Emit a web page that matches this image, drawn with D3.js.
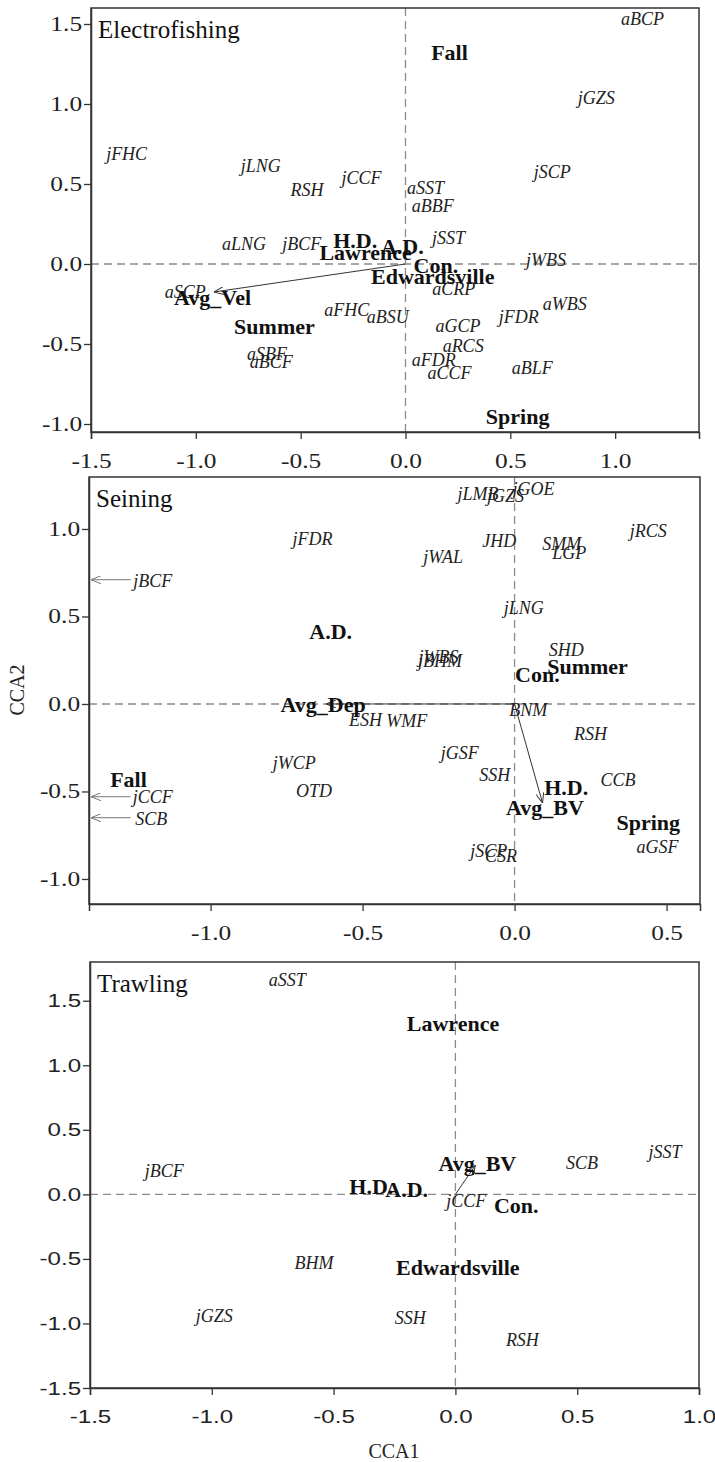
<!DOCTYPE html>
<html>
<head>
<meta charset="utf-8">
<script src="https://cdn.jsdelivr.net/npm/d3@7"></script>
<style>
  body { margin: 0; background: #fff; }
  svg { display: block; }
</style>
</head>
<body>
<div id="chart"></div>
<script>
// ---- Electrofishing ----
const efSpecies = [
  ['jFHC', -1.33, 0.69], ['jLNG', -0.69, 0.61], ['RSH', -0.47, 0.46], ['jCCF', -0.21, 0.54],
  ['aBCP', 1.13, 1.53], ['jGZS', 0.91, 1.04], ['jSCP', 0.70, 0.575], ['aSST', 0.095, 0.475],
  ['aBBF', 0.13, 0.36], ['aLNG', -0.77, 0.125], ['jBCF', -0.495, 0.125], ['aSCP', -1.05, -0.175],
  ['aSBF', -0.66, -0.56], ['aBCF', -0.64, -0.61], ['aFHC', -0.28, -0.29], ['jSST', 0.205, 0.16],
  ['jWBS', 0.67, 0.025], ['aCRP', 0.23, -0.155], ['aBSU', -0.085, -0.33], ['aWBS', 0.76, -0.25],
  ['jFDR', 0.54, -0.33], ['aGCP', 0.25, -0.39], ['aRCS', 0.275, -0.51], ['aFDR', 0.135, -0.60],
  ['aCCF', 0.21, -0.68], ['aBLF', 0.605, -0.65]
];
const efFactors = [
  ['Fall', 0.21, 1.325], ['Avg_Vel', -0.92, -0.21], ['Summer', -0.625, -0.39],
  ['H.D.', -0.24, 0.15], ['A.D.', -0.015, 0.11], ['Lawrence', -0.19, 0.075],
  ['Con.', 0.145, -0.01], ['Edwardsville', 0.13, -0.08], ['Spring', 0.535, -0.95]
];
const efArrows = [[0, 0, -0.914, -0.175]];

// ---- Seining ----
const seSpecies = [
  ['jFDR', -0.665, 0.94], ['jBCF', -1.19, 0.70], ['jLMB', -0.12, 1.20], ['jGZS', -0.03, 1.19],
  ['jGOE', 0.0625, 1.23], ['jRCS', 0.44, 0.99], ['JHD', -0.05, 0.93], ['SMM', 0.155, 0.915],
  ['LGP', 0.18, 0.86], ['jWAL', -0.235, 0.84], ['jLNG', 0.03, 0.55], ['SHD', 0.17, 0.31],
  ['jWBS', -0.25, 0.27], ['jBHM', -0.245, 0.245], ['ESH', -0.49, -0.09], ['WMF', -0.355, -0.10],
  ['jWCP', -0.725, -0.34], ['OTD', -0.66, -0.50], ['jCCF', -1.19, -0.53], ['SCB', -1.195, -0.66],
  ['BNM', 0.045, -0.035], ['RSH', 0.25, -0.17], ['jGSF', -0.18, -0.28], ['SSH', -0.065, -0.405],
  ['CCB', 0.34, -0.435], ['aGSF', 0.47, -0.82], ['jSCP', -0.085, -0.84], ['CSR', -0.045, -0.87]
];
const seFactors = [
  ['A.D.', -0.605, 0.415], ['Summer', 0.24, 0.215], ['Con.', 0.075, 0.17],
  ['Avg_Dep', -0.63, -0.005], ['Fall', -1.27, -0.43], ['H.D.', 0.17, -0.475],
  ['Avg_BV', 0.10, -0.59], ['Spring', 0.44, -0.68]
];
const seArrows = [[0, 0, -0.62, 0], [0, 0, 0.092, -0.566]];
// species lying beyond the left edge
const seEdgeArrows = [[-1.263, 0.71, -1.4, 0.71], [-1.263, -0.53, -1.4, -0.53], [-1.263, -0.65, -1.4, -0.65]];

// ---- Trawling ----
const trSpecies = [
  ['aSST', -0.69, 1.66], ['jBCF', -1.195, 0.18], ['jSST', 0.86, 0.325], ['SCB', 0.52, 0.24],
  ['jCCF', 0.045, -0.055], ['SSH', -0.185, -0.96], ['RSH', 0.275, -1.125], ['BHM', -0.58, -0.53],
  ['jGZS', -0.99, -0.945]
];
const trFactors = [
  ['Lawrence', -0.01, 1.325], ['Avg_BV', 0.09, 0.24], ['H.D.', -0.345, 0.06],
  ['A.D.', -0.20, 0.04], ['Con.', 0.25, -0.085], ['Edwardsville', 0.01, -0.565]
];
const trArrows = [[0, 0, 0.082, 0.225]];

const ticksA = [-1.5, -1.0, -0.5, 0.0, 0.5, 1.0, 1.5];
const ticksB = [-1.0, -0.5, 0.0, 0.5, 1.0];

const SERIF = '"Liberation Serif", "Times New Roman", serif';
const SANS = '"Liberation Sans", Arial, sans-serif';

const panels = [
  { title: 'Electrofishing', left: 91, right: 699, top: 8, bottom: 432,
    xDomain: [-1.5, 1.4], yDomain: [-1.05, 1.6],
    xTicks: [-1.5, -1.0, -0.5, 0.0, 0.5, 1.0], yTicks: [-1.0, -0.5, 0.0, 0.5, 1.0, 1.5],
    tickFont: SERIF, tickSize: 20,
    species: efSpecies, factors: efFactors, arrows: efArrows, edgeArrows: [] },
  { title: 'Seining', left: 89, right: 700, top: 477, bottom: 904,
    xDomain: [-1.4, 0.61], yDomain: [-1.143, 1.297],
    xTicks: [-1.0, -0.5, 0.0, 0.5], yTicks: ticksB,
    tickFont: SERIF, tickSize: 20,
    species: seSpecies, factors: seFactors, arrows: seArrows, edgeArrows: seEdgeArrows },
  { title: 'Trawling', left: 90, right: 699, top: 962, bottom: 1388,
    xDomain: [-1.5, 1.0], yDomain: [-1.5, 1.8],
    xTicks: [-1.5, -1.0, -0.5, 0.0, 0.5, 1.0], yTicks: ticksA,
    tickFont: SANS, tickSize: 19,
    species: trSpecies, factors: trFactors, arrows: trArrows, edgeArrows: [] }
];

const W = 715, H = 1462;
const svg = d3.select('#chart').append('svg').attr('width', W).attr('height', H);

const defs = svg.append('defs');
function addMarker(id, color) {
  defs.append('marker')
    .attr('id', id)
    .attr('viewBox', '0 0 10 8')
    .attr('refX', 10).attr('refY', 4)
    .attr('markerWidth', 10).attr('markerHeight', 8)
    .attr('markerUnits', 'userSpaceOnUse')
    .attr('orient', 'auto')
    .append('path')
    .attr('d', 'M0,0 L10,4 L0,8')
    .attr('fill', 'none')
    .attr('stroke', color)
    .attr('stroke-width', 1);
}
addMarker('arr-dark', '#333');
addMarker('arr-grey', '#777');

const fmt = d => d.toFixed(1);

panels.forEach(p => {
  const x = d3.scaleLinear().domain(p.xDomain).range([p.left, p.right]);
  const y = d3.scaleLinear().domain(p.yDomain).range([p.bottom, p.top]);
  const g = svg.append('g');

  // dashed zero lines
  g.append('line')
    .attr('x1', x(0)).attr('x2', x(0)).attr('y1', p.top).attr('y2', p.bottom)
    .attr('stroke', '#8a8a8a').attr('stroke-width', 1.3).attr('stroke-dasharray', '8,5');
  g.append('line')
    .attr('x1', p.left).attr('x2', p.right).attr('y1', y(0)).attr('y2', y(0))
    .attr('stroke', '#8a8a8a').attr('stroke-width', 1.3).attr('stroke-dasharray', '8,5');

  // frame
  g.append('rect')
    .attr('x', p.left).attr('y', p.top)
    .attr('width', p.right - p.left).attr('height', p.bottom - p.top)
    .attr('fill', 'none').attr('stroke', '#333').attr('stroke-width', 1.5);

  // axes
  const xAxis = g.append('g')
    .attr('transform', `translate(0,${p.bottom})`)
    .call(d3.axisBottom(x).tickValues(p.xTicks).tickFormat(fmt).tickSize(7).tickPadding(15));
  const yAxis = g.append('g')
    .attr('transform', `translate(${p.left},0)`)
    .call(d3.axisLeft(y).tickValues(p.yTicks).tickFormat(fmt).tickSize(7).tickSizeOuter(0).tickPadding(2));

  [xAxis, yAxis].forEach(a => {
    a.select('.domain').attr('stroke', '#333').attr('stroke-width', 1.5);
    a.selectAll('.tick line').attr('stroke', '#333').attr('stroke-width', 1.3);
    a.selectAll('text')
      .attr('fill', '#222')
      .attr('font-family', p.tickFont)
      .attr('font-size', p.tickSize);
  });
  xAxis.selectAll('text').attr('transform', 'scale(1.27,1)');
  yAxis.selectAll('text').attr('x', -7).attr('transform', 'scale(1.27,1)');

  // arrows
  g.selectAll('.arrow')
    .data(p.arrows)
    .enter().append('line')
    .attr('x1', d => x(d[0])).attr('y1', d => y(d[1]))
    .attr('x2', d => x(d[2])).attr('y2', d => y(d[3]))
    .attr('stroke', '#333').attr('stroke-width', 1)
    .attr('marker-end', 'url(#arr-dark)');

  g.selectAll('.edge-arrow')
    .data(p.edgeArrows)
    .enter().append('line')
    .attr('x1', d => x(d[0])).attr('y1', d => y(d[1]))
    .attr('x2', d => x(d[2]) + 2).attr('y2', d => y(d[3]))
    .attr('stroke', '#777').attr('stroke-width', 1)
    .attr('marker-end', 'url(#arr-grey)');

  // species labels
  g.selectAll('.sp')
    .data(p.species)
    .enter().append('text')
    .attr('x', d => x(d[1])).attr('y', d => y(d[2]))
    .attr('text-anchor', 'middle')
    .attr('dominant-baseline', 'central')
    .attr('font-family', SERIF)
    .attr('font-style', 'italic')
    .attr('font-size', 18)
    .attr('fill', '#222')
    .text(d => d[0]);

  // environmental / factor labels
  g.selectAll('.fac')
    .data(p.factors)
    .enter().append('text')
    .attr('x', d => x(d[1])).attr('y', d => y(d[2]))
    .attr('text-anchor', 'middle')
    .attr('dominant-baseline', 'central')
    .attr('font-family', SERIF)
    .attr('font-weight', 'bold')
    .attr('font-size', 22)
    .attr('fill', '#111')
    .text(d => d[0]);

  // panel title
  g.append('text')
    .attr('x', p.left + 7).attr('y', p.top + 30)
    .attr('font-family', SERIF)
    .attr('font-size', 25)
    .attr('fill', '#111')
    .text(p.title);
});

// axis titles
svg.append('text')
  .attr('x', 394).attr('y', 1458)
  .attr('text-anchor', 'middle')
  .attr('font-family', SERIF).attr('font-size', 20).attr('fill', '#222')
  .text('CCA1');

svg.append('text')
  .attr('transform', 'translate(24,690) rotate(-90)')
  .attr('text-anchor', 'middle')
  .attr('font-family', SERIF).attr('font-size', 20).attr('fill', '#222')
  .text('CCA2');
</script>
</body>
</html>
